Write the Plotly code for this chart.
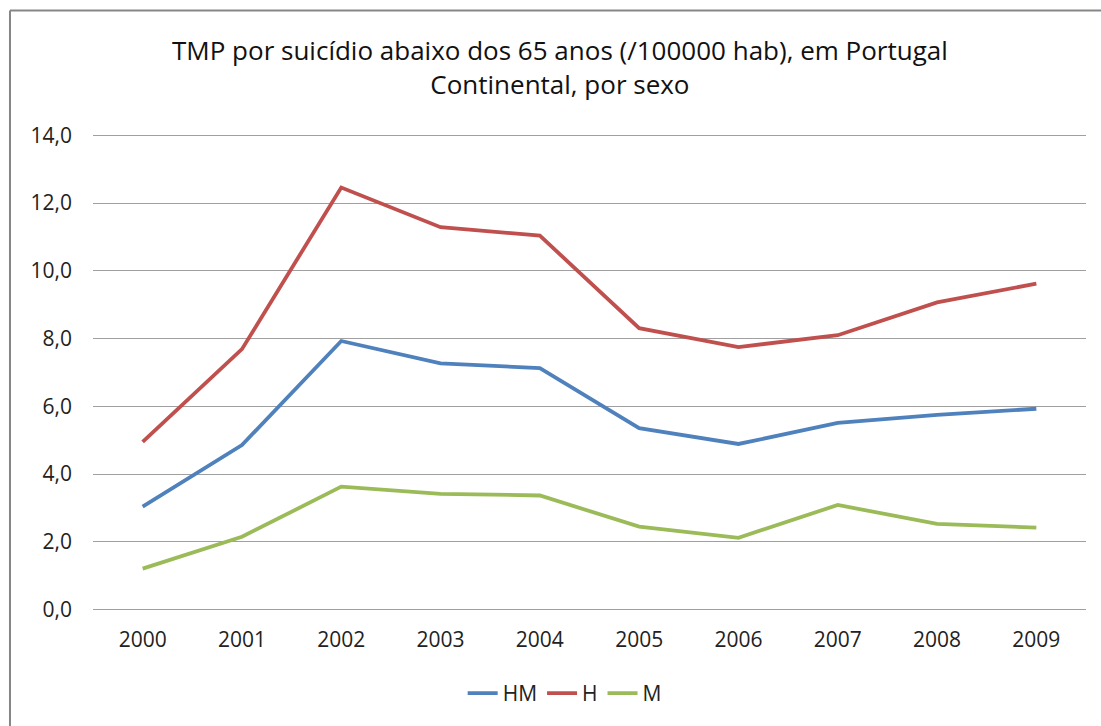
import plotly.graph_objects as go

years = ["2000", "2001", "2002", "2003", "2004", "2005", "2006", "2007", "2008", "2009"]
hm = [3.04, 4.86, 7.93, 7.27, 7.13, 5.36, 4.89, 5.51, 5.75, 5.93]
h = [4.95, 7.69, 12.46, 11.29, 11.04, 8.31, 7.75, 8.10, 9.07, 9.62]
m = [1.21, 2.15, 3.63, 3.42, 3.37, 2.45, 2.12, 3.09, 2.53, 2.42]

series = [("HM", hm, "#4F81BD"), ("H", h, "#C0504D"), ("M", m, "#9BBB59")]

fig = go.Figure()
for name, vals, color in series:
    fig.add_trace(go.Scatter(x=years, y=vals, name=name, mode="lines",
                             line=dict(color=color, width=3.8)))

fig.update_layout(
    width=1101, height=726,
    margin=dict(l=93, r=15, t=134, b=115),
    paper_bgcolor="white", plot_bgcolor="white",
    font=dict(family="Open Sans, Liberation Sans, sans-serif", color="#222222", size=21),
    xaxis=dict(type="category", range=[-0.5, 9.5], showgrid=False, showline=False,
               ticks="", zeroline=False, tickfont=dict(size=21), ticklabelstandoff=14),
    yaxis=dict(range=[-0.04, 14.04], dtick=2, tickformat=".1f", showgrid=True,
               gridcolor="#a0a0a0", gridwidth=1, zeroline=False, showline=False,
               ticks="", tickfont=dict(size=21), ticklabelstandoff=20),
    separators=",.",
    showlegend=True,
    legend=dict(orientation="h", x=0.475, xanchor="center", y=-0.173, yanchor="middle",
                font=dict(size=21), bgcolor="rgba(0,0,0,0)"),
    annotations=[
        dict(text="TMP por suicídio abaixo dos 65 anos (/100000 hab), em Portugal<br>Continental, por sexo",
             xref="paper", yref="paper", x=0.470, y=1.140, xanchor="center", yanchor="middle",
             showarrow=False, font=dict(size=26, color="#111111"))
    ],
    shapes=[
        dict(type="line", xref="paper", yref="paper", x0=-0.0836, x1=1.1, y0=1.259, y1=1.259,
             line=dict(color="#868686", width=2)),
        dict(type="line", xref="paper", yref="paper", x0=-0.0836, x1=-0.0836, y0=-0.3, y1=1.259,
             line=dict(color="#868686", width=2)),
    ],
)

fig.write_html("out.html")
